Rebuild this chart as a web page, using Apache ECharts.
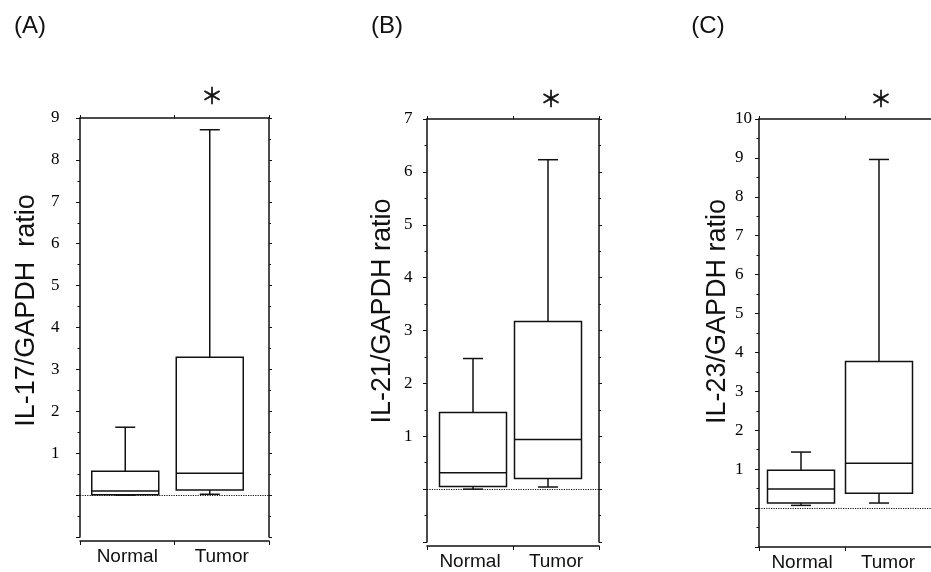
<!DOCTYPE html>
<html>
<head>
<meta charset="utf-8">
<script src="https://cdn.jsdelivr.net/npm/echarts@6/dist/echarts.min.js"></script>
<style>
  html, body { margin: 0; padding: 0; background: #fff; }
  #main { width: 931px; height: 572px; }
</style>
</head>
<body>
<div id="main"></div>
<script>
// box data: [lower whisker, Q1, median, Q3, upper whisker]
var categories = ["Normal", "Tumor"];
var il17Normal = [0.0, 0.01, 0.1, 0.57, 1.62];
var il17Tumor = [0.02, 0.12, 0.52, 3.29, 8.72];
var il21Normal = [0.0, 0.05, 0.31, 1.45, 2.47];
var il21Tumor = [0.04, 0.2, 0.94, 3.17, 6.23];
var il23Normal = [0.07, 0.13, 0.49, 0.97, 1.44];
var il23Tumor = [0.13, 0.38, 1.15, 3.77, 8.96];
var yMinA = -1, yMaxA = 9;
var yMinB = -1, yMaxB = 7;
var yMinC = -1, yMaxC = 10;

var ink = "#111";
var panels = [
  { tag: "(A)", name: "IL-17/GAPDH  ratio", min: yMinA, max: yMaxA, rows: [il17Normal, il17Tumor],
    grid: { left: 80, top: 118, width: 189, height: 419 }, labelMargin: 29, nameGap: 40, namePad: 34,
    xOffset: 4, shift: [-2, -12], tagPos: [30, 26], starPos: [212, 95], rightAxis: true },
  { tag: "(B)", name: "IL-21/GAPDH ratio", min: yMinB, max: yMaxB, rows: [il21Normal, il21Tumor],
    grid: { left: 427, top: 119, width: 172, height: 423 }, labelMargin: 23, nameGap: 31, namePad: 39,
    xOffset: 4, shift: [3, -8], tagPos: [387, 26], starPos: [551, 98], rightAxis: true },
  { tag: "(C)", name: "IL-23/GAPDH ratio", min: yMinC, max: yMaxC, rows: [il23Normal, il23Tumor],
    grid: { left: 759, top: 119, width: 173, height: 429 }, labelMargin: 24, nameGap: 28, namePad: 43,
    xOffset: 0, shift: [-1, -9], tagPos: [708, 26], starPos: [881, 98], rightAxis: false }
];

function boxRenderer(p) {
  return function (params, api) {
    var cat = api.value(0);
    var lo = api.coord([cat, api.value(1)]);
    var q1 = api.coord([cat, api.value(2)]);
    var med = api.coord([cat, api.value(3)]);
    var q3 = api.coord([cat, api.value(4)]);
    var hi = api.coord([cat, api.value(5)]);
    var x = lo[0] + p.shift[cat];
    var hw = 33.5, cw = 10;
    var st = { stroke: ink, lineWidth: 1.5, fill: null };
    return {
      type: "group",
      children: [
        { type: "line", shape: { x1: x, y1: q3[1], x2: x, y2: hi[1] }, style: st },
        { type: "line", shape: { x1: x - cw, y1: hi[1], x2: x + cw, y2: hi[1] }, style: st },
        { type: "line", shape: { x1: x, y1: q1[1], x2: x, y2: lo[1] }, style: st },
        { type: "line", shape: { x1: x - cw, y1: lo[1], x2: x + cw, y2: lo[1] }, style: st },
        { type: "rect", shape: { x: x - hw, y: q3[1], width: hw * 2, height: q1[1] - q3[1] }, style: st },
        { type: "line", shape: { x1: x - hw, y1: med[1], x2: x + hw, y2: med[1] }, style: st }
      ]
    };
  };
}

var grids = [], xAxes = [], yAxes = [], series = [], graphics = [];
panels.forEach(function (p, i) {
  grids.push(p.grid);
  var axLine = { show: true, onZero: false, lineStyle: { color: ink, width: 1.5 } };
  xAxes.push({
    type: "category", gridIndex: i, data: categories, position: "bottom", offset: p.xOffset,
    axisLine: axLine, axisTick: { show: true, length: 4, lineStyle: { color: ink } },
    axisLabel: { color: ink, fontSize: 19, fontFamily: "Liberation Sans", margin: 6 }
  });
  xAxes.push({
    type: "category", gridIndex: i, data: categories, position: "top",
    axisLine: axLine, axisTick: { show: true, length: 3, lineStyle: { color: ink } },
    axisLabel: { show: false }
  });
  yAxes.push({
    type: "value", gridIndex: i, min: p.min, max: p.max, interval: 1, position: "left",
    name: p.name, nameLocation: "middle", nameGap: p.nameGap,
    nameTextStyle: { color: ink, fontSize: 27, fontFamily: "Liberation Sans", padding: [0, 0, 0, p.namePad] },
    axisLine: axLine, splitLine: { show: false },
    axisTick: { show: true, length: 4, lineStyle: { color: ink } },
    minorTick: { show: true, splitNumber: 2, length: 2.5, lineStyle: { color: ink } },
    axisLabel: {
      color: "#000", fontSize: 17, fontFamily: "Liberation Sans Narrow", align: "left", margin: p.labelMargin,
      formatter: function (v) { return v > 0 ? String(v) : ""; }
    }
  });
  yAxes.push({
    type: "value", gridIndex: i, min: p.min, max: p.max, interval: 1, position: "right",
    axisLine: { show: p.rightAxis, onZero: false, lineStyle: { color: ink, width: 1.5 } },
    splitLine: { show: false },
    axisTick: { show: p.rightAxis, length: 3, lineStyle: { color: ink } },
    minorTick: { show: p.rightAxis, splitNumber: 2, length: 2, lineStyle: { color: ink } },
    axisLabel: { show: false }
  });
  series.push({
    type: "custom", xAxisIndex: i * 2, yAxisIndex: i * 2,
    renderItem: boxRenderer(p),
    encode: { x: 0, y: [1, 2, 3, 4, 5] },
    data: p.rows.map(function (r, k) { return [k].concat(r); }),
    markLine: {
      silent: true, symbol: "none", label: { show: false },
      lineStyle: { color: ink, type: "dotted", width: 1.2 },
      data: [{ yAxis: 0 }]
    }
  });
  graphics.push({
    type: "text", x: p.tagPos[0], y: p.tagPos[1],
    style: { text: p.tag, fill: ink, font: "24px Liberation Sans", textAlign: "center", textVerticalAlign: "middle" }
  });
  graphics.push({
    type: "text", x: p.starPos[0], y: p.starPos[1],
    style: { text: "＊", fill: ink, stroke: ink, lineWidth: 0.6, font: "22px Noto Sans CJK JP",
      textAlign: "center", textVerticalAlign: "middle" }
  });
});

var myChart = echarts.init(document.getElementById("main"));
myChart.setOption({
  animation: false,
  backgroundColor: "#fff",
  grid: grids,
  xAxis: xAxes,
  yAxis: yAxes,
  series: series,
  graphic: graphics
});
</script>
</body>
</html>
